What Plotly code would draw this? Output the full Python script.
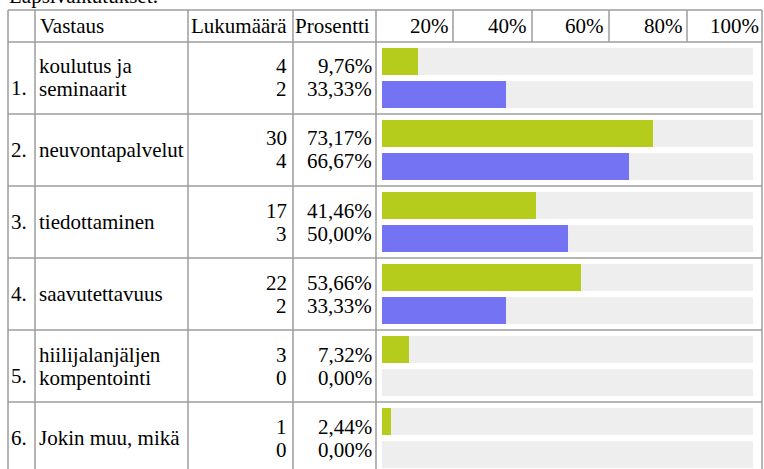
import plotly.graph_objects as go

# ---------------- data ----------------
title_text = "Lapsivaikutukset:"
header_labels = ["Vastaus", "Lukumäärä", "Prosentti"]
tick_labels = ["20%", "40%", "60%", "80%", "100%"]
answers = [
    ["koulutus ja", "seminaarit"],
    ["neuvontapalvelut"],
    ["tiedottaminen"],
    ["saavutettavuus"],
    ["hiilijalanjäljen", "kompentointi"],
    ["Jokin muu, mikä"],
]
count_a = [4, 30, 17, 22, 3, 1]
pct_a = [9.76, 73.17, 41.46, 53.66, 7.32, 2.44]
count_b = [2, 4, 3, 2, 0, 0]
pct_b = [33.33, 66.67, 50.00, 33.33, 0.00, 0.00]

# ---------------- layout constants ----------------
W, H = 764, 469
FONT = "Liberation Serif, Times New Roman, serif"
FS = 21
GREEN = "#b5cc1c"
BLUE = "#7373f4"
TRACK = "#eeeeee"
GRID = "#9c9c9c"

TABLE_LEFT, TABLE_RIGHT, TABLE_TOP = 8, 762, 10
HEADER_BOTTOM = 42
ROW_H = 72
col_lines = [8, 35, 188, 293, 376, 762]
header_lines = [453, 532, 609, 687]
tick_right = [450, 528, 605, 684, 760]
BAR_X0, BAR_X1 = 382, 753
GREEN_OFF, BLUE_OFF, BAR_H = 19.5, 52.5, 27
LINE1_OFF, LINE2_OFF, MID_OFF = 24.5, 47.5, 36


def xp(px):
    return px / W


def yp(py):
    return 1 - py / H


n = len(answers)
row_tops = [HEADER_BOTTOM + ROW_H * i for i in range(n)]

fig = go.Figure()

# track bars (100%)
for off in (GREEN_OFF, BLUE_OFF):
    fig.add_trace(go.Bar(
        x=[100] * n, y=[t + off for t in row_tops], orientation="h",
        width=BAR_H, marker=dict(color=TRACK, line=dict(width=0)),
        hoverinfo="skip", showlegend=False))

fig.add_trace(go.Bar(
    x=pct_a, y=[t + GREEN_OFF for t in row_tops], orientation="h",
    width=BAR_H, marker=dict(color=GREEN, line=dict(width=0)),
    showlegend=False))
fig.add_trace(go.Bar(
    x=pct_b, y=[t + BLUE_OFF for t in row_tops], orientation="h",
    width=BAR_H, marker=dict(color=BLUE, line=dict(width=0)),
    showlegend=False))

shapes = []


def hline(y, x0=TABLE_LEFT, x1=TABLE_RIGHT):
    shapes.append(dict(type="line", xref="paper", yref="paper",
                       x0=xp(x0), x1=xp(x1), y0=yp(y), y1=yp(y),
                       line=dict(color=GRID, width=1.5)))


def vline(x, y0, y1):
    shapes.append(dict(type="line", xref="paper", yref="paper",
                       x0=xp(x), x1=xp(x), y0=yp(y0), y1=yp(y1),
                       line=dict(color=GRID, width=1.5)))


hline(TABLE_TOP)
hline(HEADER_BOTTOM)
for t in row_tops[1:]:
    hline(t)
for x in col_lines:
    vline(x, TABLE_TOP, H + 5)
for x in header_lines:
    vline(x, TABLE_TOP, HEADER_BOTTOM)

annotations = []


def txt(s, x, y, anchor="left"):
    annotations.append(dict(text=s, xref="paper", yref="paper",
                            x=xp(x), y=yp(y), xanchor=anchor, yanchor="middle",
                            showarrow=False, borderpad=0,
                            font=dict(family=FONT, size=FS, color="#000000")))


def pct_fmt(v):
    return f"{v:.2f}".replace(".", ",") + "%"


# title, partly above the top edge as in the reference screenshot
txt(title_text, 8, -4)

# header
hy = 26
txt(header_labels[0], 39, hy)
txt(header_labels[1], 190, hy)
txt(header_labels[2], 294, hy)
for lab, xr in zip(tick_labels, tick_right):
    txt(lab, xr, hy, "right")

for i, t in enumerate(row_tops):
    lines = answers[i]
    if len(lines) == 2:
        txt(lines[0], 38, t + LINE1_OFF)
        txt(lines[1], 38, t + LINE2_OFF)
        txt(f"{i + 1}.", 10, t + LINE2_OFF - 1.5)
    else:
        txt(lines[0], 38, t + MID_OFF)
        txt(f"{i + 1}.", 10, t + MID_OFF)
    txt(str(count_a[i]), 288, t + LINE1_OFF, "right")
    txt(str(count_b[i]), 288, t + LINE2_OFF, "right")
    txt(pct_fmt(pct_a[i]), 373, t + LINE1_OFF, "right")
    txt(pct_fmt(pct_b[i]), 373, t + LINE2_OFF, "right")

fig.update_layout(
    width=W, height=H,
    margin=dict(l=0, r=0, t=0, b=0),
    paper_bgcolor="white", plot_bgcolor="rgba(0,0,0,0)",
    barmode="overlay", bargap=0,
    xaxis=dict(domain=[xp(BAR_X0), xp(BAR_X1)], range=[0, 100],
               visible=False, fixedrange=True),
    yaxis=dict(domain=[0, 1], range=[H, 0], visible=False, fixedrange=True),
    shapes=shapes, annotations=annotations,
)

fig.write_html("out.html")
